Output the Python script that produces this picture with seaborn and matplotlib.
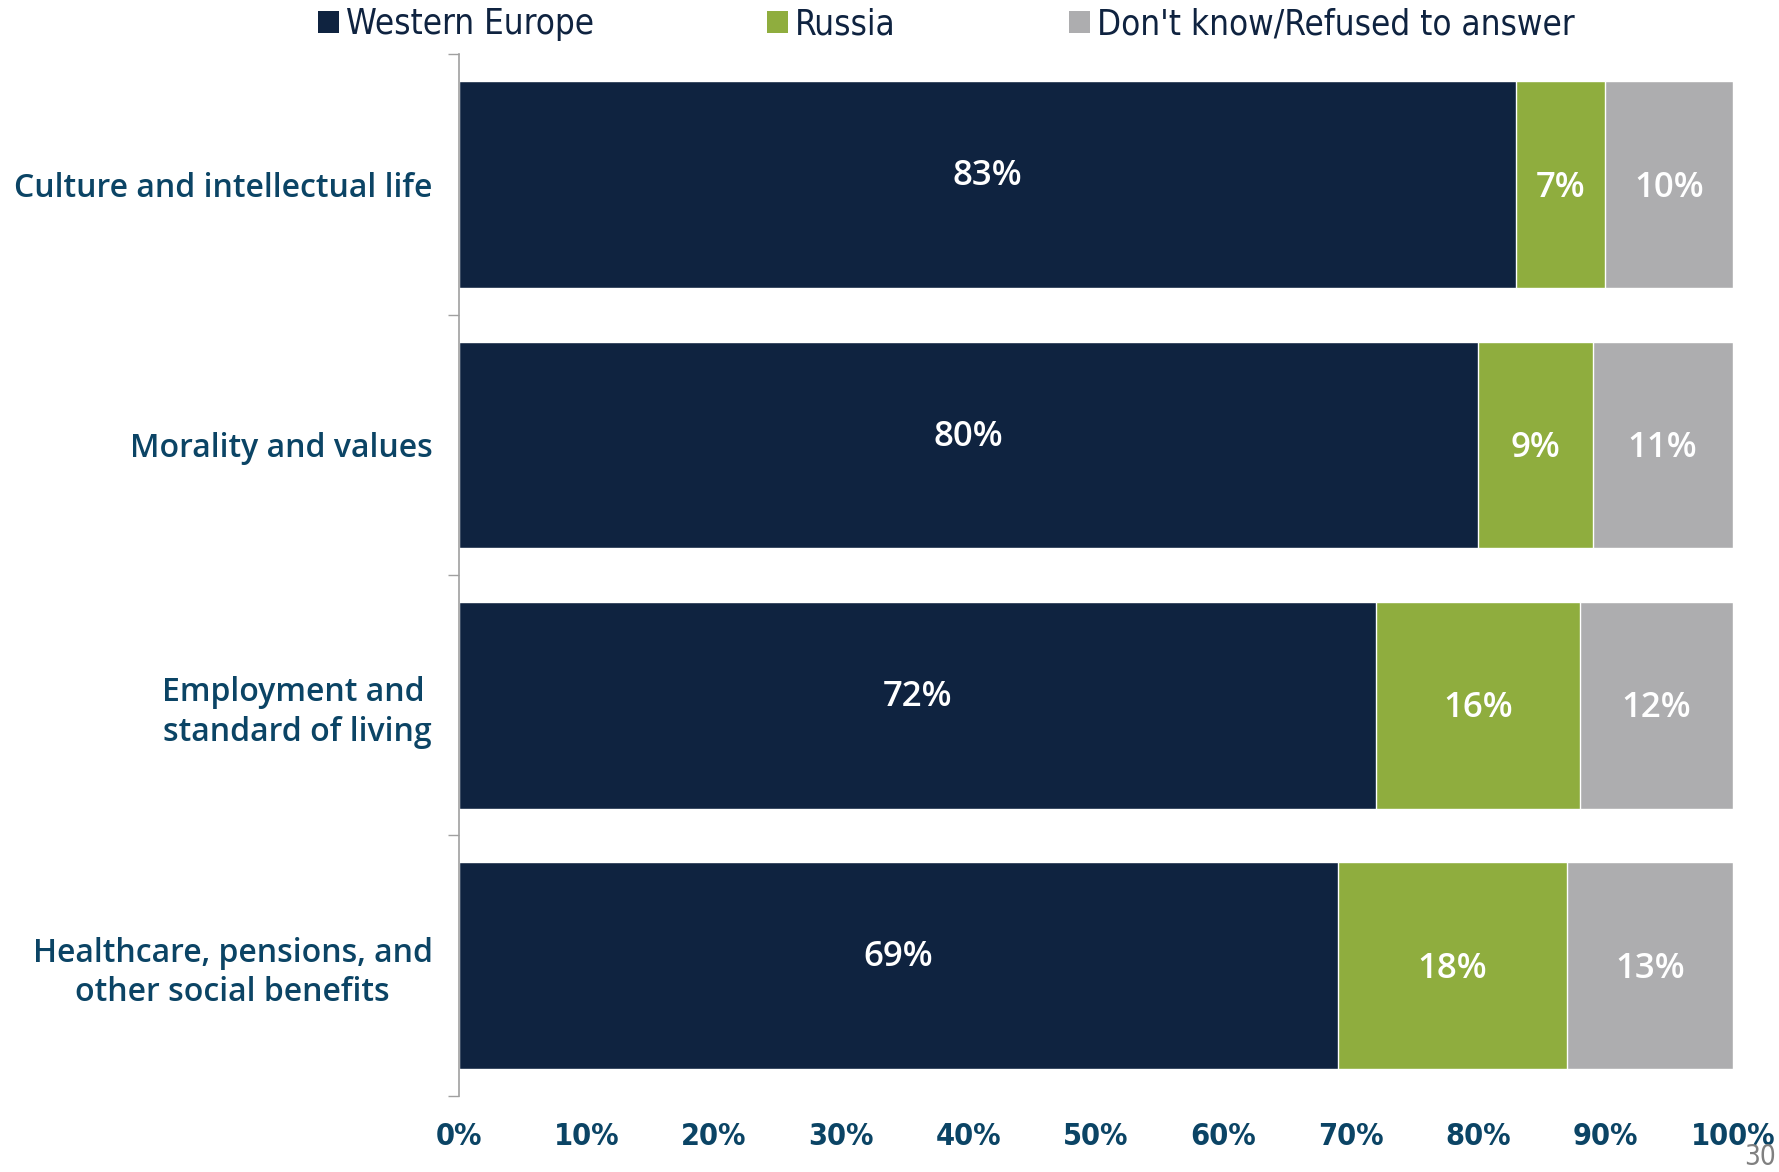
import matplotlib
matplotlib.use("Agg")
import matplotlib.pyplot as plt
import seaborn as sns
import pandas as pd
from matplotlib.patches import Patch
from matplotlib.ticker import FixedLocator

categories = ["Culture and intellectual life", "Morality and values",
              "Employment and \nstandard of living",
              "Healthcare, pensions, and\nother social benefits"]
western_europe = [83, 80, 72, 69]
russia = [7, 9, 16, 18]
dont_know = [10, 11, 12, 13]
series_names = ["Western Europe", "Russia", "Don't know/Refused to answer"]
x_ticks = [0, 10, 20, 30, 40, 50, 60, 70, 80, 90, 100]

navy = "#0F2340"
green = "#8FAD3E"
grey = "#ADADAF"
label_blue = "#0B4465"

sns.set_style("white")
plt.rcParams["font.family"] = ["Open Sans", "DejaVu Sans"]
narrow = {"family": "DejaVu Sans", "stretch": "condensed"}

df = pd.DataFrame({"cat": categories, "we": western_europe, "ru": russia, "dk": dont_know})
df["we_ru"] = df["we"] + df["ru"]
df["total"] = df["we_ru"] + df["dk"]

fig = plt.figure(figsize=(17.79, 11.72), dpi=100)
ax = fig.add_axes([0.258, 0.065, 0.716, 0.8885])

sns.barplot(data=df, y="cat", x="total", color=grey, width=0.795, saturation=1, ax=ax, orient="h")
sns.barplot(data=df, y="cat", x="we_ru", color=green, width=0.795, saturation=1, ax=ax, orient="h")
sns.barplot(data=df, y="cat", x="we", color=navy, width=0.795, saturation=1, ax=ax, orient="h")

for i in range(len(categories)):
    ax.text(df["we"][i] / 2, i - 0.032, f"{western_europe[i]}%", color="white",
            ha="center", va="center", fontsize=25, fontweight="semibold")
    ax.text(df["we"][i] + df["ru"][i] / 2, i + 0.012, f"{russia[i]}%", color="white",
            ha="center", va="center", fontsize=25, fontweight="semibold")
    ax.text(df["we_ru"][i] + df["dk"][i] / 2, i + 0.012, f"{dont_know[i]}%", color="white",
            ha="center", va="center", fontsize=25, fontweight="semibold")

ax.set_xlim(0, 100)
ax.set_ylim(3.5, -0.5)
ax.set_xlabel("")
ax.set_ylabel("")
ax.set_xticks(x_ticks)
ax.set_xticklabels([f"{t}%" for t in x_ticks], fontsize=22, color=label_blue,
                   fontweight="bold", **narrow)
ax.tick_params(axis="x", length=0, pad=19)
ax.set_yticks(range(len(categories)))
ax.set_yticklabels(categories, fontsize=23, color=label_blue, linespacing=1.25,
                   fontweight="semibold")
for lbl in ax.get_yticklabels():
    lbl.set_multialignment("center")
ax.yaxis.set_minor_locator(FixedLocator([-0.5, 0.5, 1.5, 2.5, 3.5]))
ax.tick_params(axis="y", which="major", length=7, width=1, color="#A0A0A0", pad=12)
ax.tick_params(axis="y", which="minor", length=8, width=1, color="#A0A0A0", left=True)

for s in ["top", "right", "bottom"]:
    ax.spines[s].set_visible(False)
ax.spines["left"].set_color("#A0A0A0")
ax.spines["left"].set_linewidth(1.2)

handles = [Patch(facecolor=c, edgecolor="none") for c in [navy, green, grey]]
fig.legend(handles, series_names, loc="center", bbox_to_anchor=(0.532, 0.9795), ncol=3,
           frameon=False, handlelength=0.6, handleheight=0.6, handletextpad=0.2,
           columnspacing=5.0,
           prop={"family": "DejaVu Sans", "stretch": "condensed", "size": 25},
           labelcolor=navy)

fig.text(0.998, 0.001, "30", fontsize=20, color="#808080", ha="right", va="bottom", **narrow)

fig.savefig("out.png", dpi=100)
